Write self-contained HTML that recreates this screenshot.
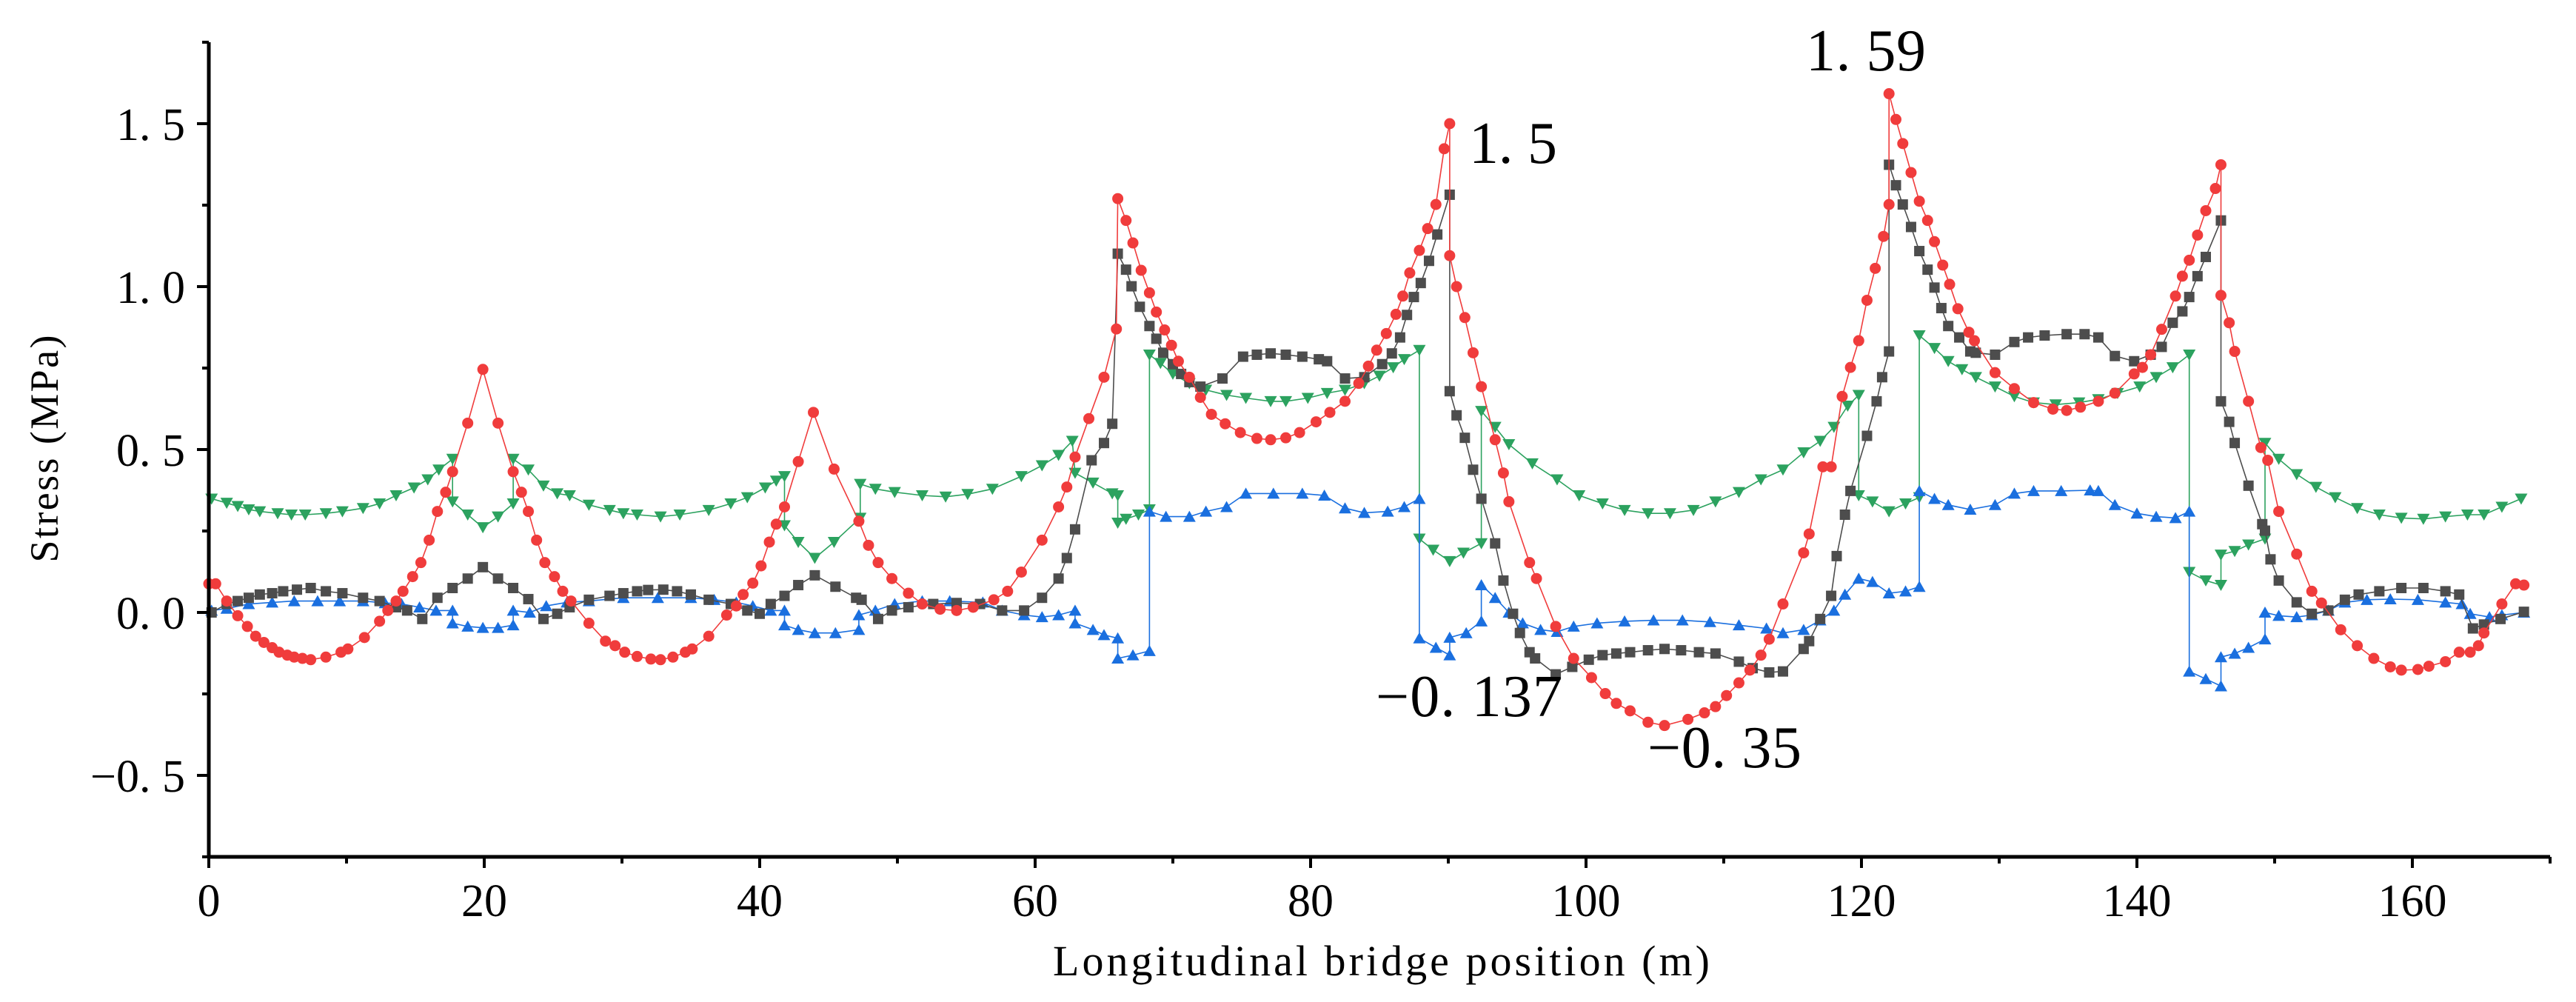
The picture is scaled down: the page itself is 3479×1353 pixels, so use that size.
<!DOCTYPE html>
<html><head><meta charset="utf-8"><style>
html,body{margin:0;padding:0;background:#fff;}
svg{display:block;font-family:"Liberation Serif",serif;}
</style></head><body>
<svg id="chart" width="3479" height="1353" viewBox="0 0 3479 1353" xmlns="http://www.w3.org/2000/svg">
<rect width="3479" height="1353" fill="#fff"/>
<g id="plot"></g>
<g id="axes"></g>
<text x="1984" y="220" font-size="80" textLength="119">1. 5</text>
<text x="2439" y="95" font-size="80" textLength="162">1. 59</text>
<text x="1858" y="967" font-size="80" textLength="252">−0. 137</text>
<text x="2225" y="1036" font-size="80" textLength="208">−0. 35</text>
<text x="1422" y="1317" font-size="58" textLength="887">Longitudinal bridge position (m)</text>
<text transform="translate(78,606) rotate(-90)" text-anchor="middle" font-size="54" textLength="307">Stress (MPa)</text>
</svg>
<script>
const xTicks=[0,20,40,60,80,100,120,140,160];
const xTickLabels=["0","20","40","60","80","100","120","140","160"];
const yTicks=[-0.5,0,0.5,1.0,1.5];
const yTickLabels=["−0. 5","0. 0","0. 5","1. 0","1. 5"];
const redX=[0,0.5,1.3,2.1,2.8,3.4,4,4.6,5.1,5.7,6.2,6.8,7.4,8.5,9.6,10.1,11.3,12.4,13,13.6,14.1,14.8,15.4,16,16.6,17.2,17.7,18.8,19.9,21,22.1,22.7,23.2,23.8,24.4,25.1,25.7,26.3,27.6,28.8,29.5,30.2,31.1,32.1,32.8,33.7,34.6,35.1,36.3,37.6,38.3,38.8,39.5,40.1,40.7,41.2,41.8,42.8,43.9,45.4,47.2,47.9,48.6,49.6,50.8,51.8,53.1,54.3,55.5,57,58,59,60.5,61.7,62.3,62.9,63.9,65,65.9,66,66.6,67.1,67.7,68.3,68.8,69.4,69.9,70.4,71.2,72,72.8,73.8,74.9,76.1,77.1,78.2,79.2,80.4,81.4,82.5,83.5,84.2,84.8,85.5,86.2,86.7,87.2,87.9,88.5,89.1,89.7,90.1,90.1,90.6,91.2,91.8,92.4,93.4,94,94.4,95.9,96.4,97.8,99.1,100.4,101.4,102.2,103.2,104.5,105.7,107.4,108.6,109.4,110.2,111.1,111.9,112.7,113.3,114.3,115.8,116.2,117.2,117.8,118.6,119.2,119.8,120.4,121,121.6,122,122,122.5,123,123.6,124.2,124.8,125.3,125.9,126.4,127,127.8,128.2,129.7,131.1,132.5,133.9,134.9,135.9,137.2,138.4,139.8,140.4,141,141.8,142.8,143.3,143.8,144.4,145,145.7,146.1,146.1,146.7,147.1,148.1,149,149.5,150.3,151.6,152.7,153.4,154.8,156,157.2,158.4,159.2,160.4,161.2,162.4,163.4,164.2,164.8,165.2,166.5,167.5,168.1];
const redY=[0.088,0.088,0.035,-0.01,-0.043,-0.073,-0.092,-0.108,-0.122,-0.131,-0.137,-0.141,-0.145,-0.137,-0.122,-0.112,-0.077,-0.027,0.006,0.035,0.065,0.11,0.153,0.222,0.31,0.369,0.432,0.581,0.746,0.581,0.432,0.369,0.31,0.222,0.153,0.11,0.065,0.035,-0.033,-0.088,-0.102,-0.122,-0.135,-0.143,-0.145,-0.137,-0.122,-0.112,-0.073,-0.008,0.02,0.055,0.09,0.143,0.216,0.271,0.324,0.463,0.614,0.44,0.28,0.206,0.153,0.104,0.059,0.026,0.01,0.006,0.016,0.039,0.065,0.124,0.222,0.324,0.385,0.477,0.595,0.722,0.87,1.27,1.203,1.134,1.05,0.981,0.922,0.867,0.82,0.771,0.722,0.66,0.608,0.579,0.552,0.534,0.53,0.536,0.552,0.585,0.614,0.648,0.703,0.756,0.805,0.856,0.915,0.971,1.042,1.111,1.178,1.252,1.423,1.5,1.095,1.0,0.905,0.797,0.693,0.53,0.428,0.34,0.153,0.104,-0.043,-0.141,-0.2,-0.249,-0.279,-0.302,-0.337,-0.347,-0.328,-0.308,-0.289,-0.255,-0.216,-0.177,-0.131,-0.082,0.026,0.183,0.241,0.447,0.447,0.663,0.752,0.834,0.958,1.056,1.154,1.252,1.592,1.513,1.439,1.35,1.262,1.203,1.138,1.066,1.007,0.932,0.86,0.834,0.736,0.687,0.644,0.624,0.62,0.63,0.648,0.673,0.732,0.752,0.791,0.869,0.971,1.032,1.081,1.158,1.233,1.301,1.374,0.973,0.889,0.801,0.648,0.506,0.467,0.31,0.179,0.065,0.029,-0.053,-0.102,-0.141,-0.167,-0.177,-0.175,-0.165,-0.151,-0.122,-0.122,-0.102,-0.063,0.026,0.088,0.084];
const grayX=[0.2,1.3,2.1,2.9,3.7,4.6,5.4,6.4,7.4,8.5,9.7,11.2,12.4,13.6,14.4,15.5,16.6,17.7,18.8,19.9,21,22.1,23.2,24.3,25.3,26.2,27.6,29.1,30.1,31.1,31.9,33,34,35,36.3,37.9,39.1,40,40.8,41.8,42.8,44,45.5,47,47.4,48.6,49.6,50.8,52.6,54.3,56,57.6,59.2,60.5,61.7,62.3,62.9,64.1,65,65.6,66,66.6,67,67.6,68.3,68.8,69.3,70,70.6,71.2,72,73.6,75.1,76.1,77.1,78.2,79.4,80.6,81.2,82.5,83.9,85.2,85.9,86.5,87,87.5,88,88.6,89.2,90.1,90.1,90.6,91.2,91.8,92.4,93.4,94,94.7,95.2,95.9,96.3,97.8,99,100.2,101.2,102.2,103.2,104.5,105.7,106.9,108.2,109.4,111.1,112.1,113.3,114.3,115.8,116.2,117,117.8,118.2,118.8,119.2,120.4,121.1,121.5,122,122,122.5,123,123.6,124.2,124.8,125.3,125.8,126.3,127.1,127.9,128.3,129.7,131.1,132.1,133.3,134.9,136.2,137.2,138.4,139.8,141,141.8,142.6,143.3,143.8,144.4,145,146.1,146.1,146.7,147.1,148.1,149.1,149.3,149.7,150.3,151.6,152.7,153.9,155.1,156.1,157.6,159.2,160.8,162.4,163.4,164.4,165.2,166.4,168.1];
const grayY=[0,0.026,0.035,0.045,0.055,0.059,0.065,0.07,0.075,0.065,0.059,0.045,0.035,0.016,0.006,-0.02,0.045,0.075,0.104,0.139,0.104,0.075,0.041,-0.02,-0.004,0.016,0.039,0.051,0.059,0.065,0.069,0.07,0.065,0.055,0.039,0.026,0.006,-0.004,0.026,0.051,0.084,0.114,0.079,0.045,0.039,-0.02,0.006,0.016,0.026,0.029,0.026,0.006,0.006,0.045,0.104,0.167,0.255,0.467,0.52,0.579,1.101,1.052,1.001,0.938,0.879,0.84,0.797,0.762,0.732,0.707,0.693,0.718,0.785,0.791,0.795,0.791,0.785,0.777,0.771,0.718,0.722,0.762,0.795,0.844,0.913,0.968,1.011,1.079,1.16,1.282,0.679,0.605,0.536,0.438,0.349,0.212,0.098,-0.004,-0.063,-0.122,-0.141,-0.19,-0.167,-0.145,-0.131,-0.126,-0.122,-0.116,-0.112,-0.116,-0.122,-0.126,-0.151,-0.171,-0.184,-0.181,-0.112,-0.088,-0.02,0.051,0.173,0.3,0.373,0.542,0.648,0.722,0.801,1.374,1.311,1.252,1.183,1.109,1.052,0.997,0.934,0.879,0.844,0.801,0.797,0.791,0.83,0.844,0.85,0.854,0.854,0.844,0.787,0.771,0.791,0.815,0.889,0.924,0.968,1.032,1.091,1.203,0.648,0.585,0.52,0.389,0.271,0.251,0.163,0.098,0.031,-0.004,0.006,0.039,0.055,0.065,0.075,0.075,0.065,0.055,-0.049,-0.037,-0.02,0.002];
const greenX=[0.2,1.3,2.1,2.9,3.7,5,6,7,8.5,9.7,11.2,12.4,13.6,14.9,15.9,16.7,17.7,17.7,18.8,19.9,21,22.1,22.1,23.2,24.3,25.3,26.2,27.6,29.1,30.1,31.1,32.8,34.2,36.3,37.9,39.1,40.4,41.2,41.8,41.8,42.8,44,45.4,47.3,47.3,48.4,49.8,51.8,53.5,55.1,56.9,59,60.5,61.7,62.7,62.9,64.2,65.6,66,66,66.6,67.5,68.3,68.3,69.1,70,71.2,72.4,73.9,75.3,77.1,78.2,79.8,81.2,82.5,83.9,85,86,86.8,87.9,87.9,88.9,90.1,91.1,92.4,92.4,93.4,94.4,96.1,97.9,99.5,101.2,102.8,104.5,106.1,107.8,109.4,111.1,112.7,114.3,115.8,117,118,119,119.8,119.8,120.8,122,123.2,124.2,124.2,125.3,126.3,127.3,128.3,129.7,131.1,132.5,134.1,135.8,137.2,138.6,140.2,141.4,142.6,143.8,143.8,145,146.1,146.1,147.1,148.1,149.3,149.3,150.3,151.6,153,154.4,156,157.6,159.2,160.8,162.4,164,165.2,166.5,167.9];
const greenY=[0.349,0.336,0.326,0.316,0.31,0.304,0.3,0.3,0.304,0.31,0.32,0.334,0.359,0.383,0.408,0.438,0.471,0.34,0.3,0.261,0.294,0.334,0.471,0.438,0.389,0.365,0.359,0.33,0.314,0.304,0.3,0.294,0.3,0.314,0.334,0.353,0.383,0.404,0.418,0.267,0.216,0.167,0.216,0.29,0.394,0.379,0.369,0.359,0.355,0.363,0.379,0.418,0.451,0.483,0.526,0.428,0.398,0.365,0.359,0.275,0.287,0.3,0.316,0.791,0.765,0.732,0.703,0.683,0.667,0.658,0.648,0.648,0.658,0.673,0.683,0.703,0.726,0.752,0.777,0.805,0.226,0.192,0.157,0.183,0.212,0.618,0.569,0.516,0.457,0.408,0.359,0.334,0.314,0.304,0.304,0.314,0.34,0.369,0.408,0.438,0.491,0.526,0.569,0.634,0.667,0.359,0.34,0.31,0.334,0.353,0.85,0.811,0.771,0.746,0.722,0.693,0.663,0.644,0.638,0.644,0.654,0.673,0.693,0.722,0.752,0.791,0.124,0.098,0.084,0.177,0.188,0.208,0.226,0.52,0.471,0.424,0.385,0.353,0.32,0.3,0.29,0.287,0.294,0.3,0.3,0.324,0.349];
const blueX=[0.2,1.3,2.9,4.6,6.2,7.9,9.5,11.2,12.8,14,15.3,16.5,17.7,17.7,18.8,19.9,21,22.1,22.1,23.3,24.5,26,27.6,30.1,32.6,35,36.7,38.3,39.5,40.8,41.8,41.8,42.8,44,45.5,47.2,47.2,48.4,49.8,51.8,53.8,56.2,57.6,59.2,60.5,61.7,62.9,62.9,64.2,65,66,66,67.1,68.3,68.3,69.5,71.2,72.4,73.9,75.3,77.3,79.4,81,82.5,83.9,85.6,86.8,87.9,87.9,89.1,90.1,90.1,91.3,92.4,92.4,93.4,94.4,95.4,96.7,97.9,99.1,100.8,102.8,104.9,107,109,111.1,113.1,114.3,115.8,117,118,118.8,119.8,120.8,122,123.2,124.2,124.2,125.3,126.3,127.9,129.7,131.1,132.5,134.5,136.6,137.2,138.4,140,141.4,142.8,143.8,143.8,145,146.1,146.1,147.1,148.1,149.3,149.3,150.3,151.6,152.7,153.9,155.1,156.7,158.4,160.4,162.4,163.6,164.2,165.6,166.5,168.1];
const blueY=[0.006,0.012,0.026,0.031,0.035,0.035,0.035,0.035,0.029,0.026,0.016,0.006,0.006,-0.033,-0.043,-0.047,-0.047,-0.039,0.006,0,0.02,0.031,0.035,0.045,0.045,0.045,0.039,0.031,0.02,0.006,0.006,-0.039,-0.053,-0.063,-0.063,-0.053,-0.008,0.006,0.026,0.035,0.035,0.031,0.006,-0.008,-0.014,-0.008,0.006,-0.033,-0.053,-0.069,-0.079,-0.141,-0.131,-0.118,0.31,0.294,0.294,0.31,0.324,0.365,0.365,0.365,0.359,0.32,0.306,0.31,0.324,0.349,-0.079,-0.108,-0.131,-0.077,-0.063,-0.027,0.084,0.045,0,-0.033,-0.053,-0.059,-0.043,-0.033,-0.027,-0.024,-0.024,-0.029,-0.039,-0.049,-0.063,-0.053,-0.024,0.006,0.055,0.104,0.094,0.059,0.065,0.079,0.373,0.349,0.33,0.316,0.33,0.365,0.373,0.373,0.375,0.373,0.33,0.304,0.294,0.29,0.31,-0.181,-0.204,-0.226,-0.137,-0.126,-0.108,-0.082,0,-0.01,-0.014,-0.008,0.006,0.031,0.039,0.041,0.039,0.031,0.026,-0.004,-0.014,-0.008,0];

const NS='http://www.w3.org/2000/svg';
const X0=282,X1=3444,Y0=1157,Y1=57,xMin=0,xMax=170,yMin=-0.75,yMax=1.75;
function sx(v){return X0+(v-xMin)/(xMax-xMin)*(X1-X0);}
function sy(v){return Y0-(v-yMin)/(yMax-yMin)*(Y0-Y1);}
function mk(tag,attrs,parent){const e=document.createElementNS(NS,tag);for(const k in attrs)e.setAttribute(k,attrs[k]);parent.appendChild(e);return e;}
const plot=document.getElementById('plot');
const axes=document.getElementById('axes');

function drawSeries(xs,ys,color,shape,name){
  const g=mk('g',{},plot);
  
  
  let d='';
  for(let i=0;i<xs.length;i++){d+=(i?'L':'M')+sx(xs[i]).toFixed(1)+' '+sy(ys[i]).toFixed(1);}
  const p=mk('path',{d:d,fill:'none',stroke:color,'stroke-width':1.6},g);
  
  
  for(let i=0;i<xs.length;i++){
    const cx=sx(xs[i]),cy=sy(ys[i]);let m;
    if(shape==='circle'){m=mk('circle',{cx:cx,cy:cy,r:7.5,fill:color},g);}
    else if(shape==='square'){m=mk('rect',{x:cx-7,y:cy-7,width:14,height:14,fill:color},g);}
    else if(shape==='down'){m=mk('polygon',{points:(cx-8.5)+','+(cy-7)+' '+(cx+8.5)+','+(cy-7)+' '+cx+','+(cy+8)},g);m.setAttribute('fill',color);}
    else {m=mk('polygon',{points:(cx-8.5)+','+(cy+7)+' '+(cx+8.5)+','+(cy+7)+' '+cx+','+(cy-8)},g);m.setAttribute('fill',color);}
    
    
  }
}
drawSeries(greenX,greenY,'#2ca25f','down','green');
drawSeries(blueX,blueY,'#1a6fdf','up','blue');
drawSeries(grayX,grayY,'#4d4d4d','square','gray');
drawSeries(redX,redY,'#f03c3c','circle','red');

let l=mk('line',{x1:X0,y1:Y1,x2:X0,y2:Y0+2,stroke:'#000','stroke-width':5},axes);


l=mk('line',{x1:X0-2,y1:Y0,x2:X1,y2:Y0,stroke:'#000','stroke-width':5},axes);


for(let v=0;v<=170;v+=10){
  const major=xTicks.indexOf(v)>=0;
  const t=mk('line',{x1:sx(v),y1:Y0,x2:sx(v),y2:Y0+(major?15:9),stroke:'#000','stroke-width':4},axes);
  
  
}
xTicks.forEach((v,i)=>{
  const t=mk('text',{x:sx(v),y:1237,'font-size':62,'text-anchor':'middle'},axes);
  t.textContent=xTickLabels[i];
  
  
});
for(let k=-3;k<=7;k++){
  const v=k*0.25;const major=(k%2===0);
  const t=mk('line',{x1:X0-(major?16:9),y1:sy(v),x2:X0,y2:sy(v),stroke:'#000','stroke-width':4},axes);
  
  
}
yTicks.forEach((v,i)=>{
  const t=mk('text',{x:250,y:sy(v)+22,'font-size':62,'text-anchor':'end'},axes);
  t.textContent=yTickLabels[i];
  
  
});
</script>
</body></html>
